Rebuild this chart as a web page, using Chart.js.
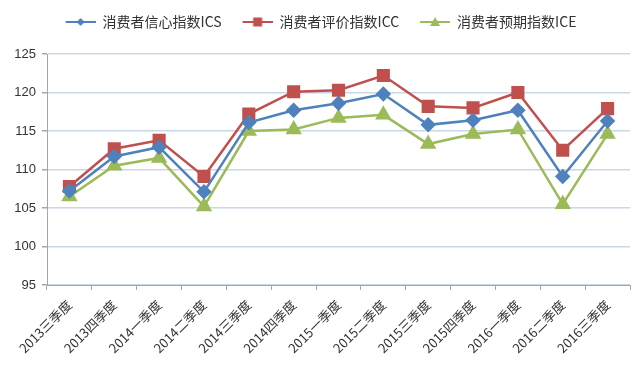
<!DOCTYPE html>
<html>
<head>
<meta charset="utf-8">
<script src="https://cdn.jsdelivr.net/npm/chart.js@4"></script>
<style>
  html, body { margin: 0; padding: 0; background: #fff; }
  #wrap { width: 640px; height: 368px; }
</style>
</head>
<body>
<div id="wrap"><canvas id="xfChart"></canvas></div>
<script>
const quarters = ["2013三季度", "2013四季度", "2014一季度", "2014二季度", "2014三季度", "2014四季度",
    "2015一季度", "2015二季度", "2015三季度", "2015四季度", "2016一季度", "2016二季度", "2016三季度"];
const icsValues = [107.2, 111.7, 112.9, 107.1, 116.1, 117.7, 118.6, 119.8, 115.8, 116.4, 117.7, 109.1, 116.3];
const iccValues = [107.8, 112.7, 113.8, 109.1, 117.2, 120.1, 120.3, 122.2, 118.2, 118.0, 120.0, 112.5, 117.9];
const iceValues = [106.5, 110.5, 111.5, 105.2, 115.0, 115.2, 116.7, 117.1, 113.3, 114.6, 115.2, 105.5, 114.6];
const seriesNames = ["消费者信心指数ICS", "消费者评价指数ICC", "消费者预期指数ICE"];

const BLUE = "#4F81BD", RED = "#C0504D", GREEN = "#9BBB59";

// legend swatch: short line with the marker in the middle (left part left blank as spacing)
function legendIcon(color, shape) {
    const c = document.createElement("canvas");
    c.width = 38; c.height = 14;
    const g = c.getContext("2d");
    const x0 = 8, cx = x0 + 15;
    g.strokeStyle = color; g.lineWidth = 2;
    g.beginPath(); g.moveTo(x0, 7); g.lineTo(x0 + 30, 7); g.stroke();
    g.fillStyle = color;
    g.beginPath();
    if (shape === "diamond") {
        g.moveTo(cx, 3); g.lineTo(cx + 4, 7); g.lineTo(cx, 11); g.lineTo(cx - 4, 7);
    } else if (shape === "square") {
        g.rect(cx - 4.5, 2.5, 9, 9);
    } else {
        g.moveTo(cx, 2); g.lineTo(cx + 5, 11); g.lineTo(cx - 5, 11);
    }
    g.closePath(); g.fill();
    return c;
}
const icons = [legendIcon(BLUE, "diamond"), legendIcon(RED, "square"), legendIcon(GREEN, "triangle")];

const ctx = document.getElementById("xfChart");

// fix the legend block height so the plot area starts where the original does
const legendHeight = {
    id: "legendHeight",
    beforeInit(chart) {
        const fit = chart.legend.fit;
        chart.legend.fit = function () {
            fit.bind(chart.legend)();
            this.height = 52;
        };
    }
};

new Chart(ctx, {
    type: "line",
    data: {
        labels: quarters,
        datasets: [{
            label: seriesNames[0],
            data: icsValues,
            borderColor: BLUE,
            backgroundColor: BLUE,
            borderWidth: 2.5,
            pointStyle: "rectRot",
            pointRadius: 6,
            pointHoverRadius: 6,
            tension: 0
        }, {
            label: seriesNames[1],
            data: iccValues,
            borderColor: RED,
            backgroundColor: RED,
            borderWidth: 2.5,
            pointStyle: "rect",
            pointRadius: 7.5,
            pointHoverRadius: 7.5,
            tension: 0
        }, {
            label: seriesNames[2],
            data: iceValues,
            borderColor: GREEN,
            backgroundColor: GREEN,
            borderWidth: 2.5,
            pointStyle: "triangle",
            pointRadius: 7,
            pointHoverRadius: 7,
            tension: 0
        }]
    },
    options: {
        responsive: true,
        maintainAspectRatio: false,
        animation: false,
        layout: { padding: { top: 2, right: 10, left: 4, bottom: 0 } },
        plugins: {
            tooltip: { enabled: false },
            legend: {
                position: "top",
                labels: {
                    usePointStyle: true,
                    pointStyleWidth: 38,
                    generateLabels(chart) {
                        return chart.data.datasets.map((ds, i) => ({
                            text: ds.label,
                            pointStyle: icons[i],
                            fontColor: "#333",
                            datasetIndex: i,
                            hidden: false,
                            lineWidth: 0
                        }));
                    },
                    color: "#333",
                    padding: 13,
                    font: { family: "'Noto Sans CJK SC', 'Liberation Sans'", size: 14 }
                }
            }
        },
        scales: {
            x: {
                offset: true,
                grid: {
                    offset: true,
                    drawOnChartArea: false,
                    drawTicks: true,
                    tickLength: 5,
                    tickColor: "#A6A6A6"
                },
                border: { color: "#A6A6A6", width: 1 },
                ticks: {
                    maxRotation: 45,
                    minRotation: 45,
                    autoSkip: false,
                    padding: 7,
                    color: "#333",
                    font: { family: "'Noto Sans CJK SC', 'Liberation Sans'", size: 13 }
                },
                afterFit(axis) { axis.height = 83; }
            },
            y: {
                min: 95,
                max: 125,
                ticks: {
                    stepSize: 5,
                    color: "#333",
                    padding: 6,
                    font: { family: "'Liberation Sans', 'DejaVu Sans'", size: 13 }
                },
                grid: {
                    color: "#C9D7E8",
                    lineWidth: 1.5,
                    tickLength: 5,
                    tickColor: "#A6A6A6"
                },
                border: { color: "#A6A6A6", width: 1 },
                afterFit(axis) { axis.width = 43; }
            }
        }
    },
    plugins: [legendHeight]
});
</script>
</body>
</html>
